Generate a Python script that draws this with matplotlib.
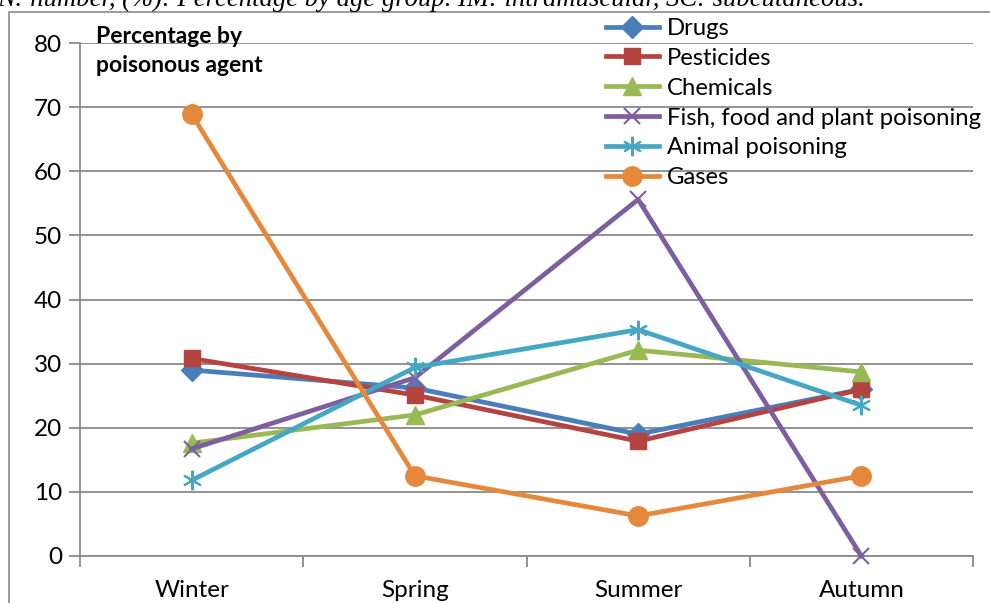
import matplotlib.pyplot as plt
from matplotlib.patches import Rectangle

seasons = ['Winter', 'Spring', 'Summer', 'Autumn']
drugs = [29.0, 26.2, 19.0, 26.0]
pesticides = [30.8, 25.1, 17.9, 26.0]
chemicals = [17.6, 22.0, 32.1, 28.7]
fish = [16.7, 27.8, 55.6, 0.0]
animal = [11.8, 29.4, 35.3, 23.5]
gases = [68.9, 12.5, 6.25, 12.5]
yticks = [0, 10, 20, 30, 40, 50, 60, 70, 80]

plt.rcParams['font.family'] = ['Lato', 'DejaVu Sans']

fig = plt.figure(figsize=(9.9, 6.03), dpi=100)
ax = fig.add_axes([80 / 990, 47 / 603, 893 / 990, 513 / 603])

# outer chart frame (runs off the right and bottom edges)
fig.patches.append(Rectangle((9 / 990, -0.1), 1.2, (603 - 12) / 603 + 0.1,
                             transform=fig.transFigure, fill=False,
                             edgecolor='#8a8a8a', linewidth=1.2))

series = [
    ('Drugs', drugs, '#4A7EBB', 'D', 11, 1.0),
    ('Pesticides', pesticides, '#B5433F', 's', 12, 1.0),
    ('Chemicals', chemicals, '#98B954', '^', 13, 1.0),
    ('Fish, food and plant poisoning', fish, '#7D5FA0', 'x', 12, 1.5),
    ('Animal poisoning', animal, '#45A7C3', (6, 2, 0), 14, 1.5),
    ('Gases', gases, '#E5883B', 'o', 14, 1.0),
]

x = range(len(seasons))
for name, vals, col, mk, ms, mew in series:
    ax.plot(x, vals, color=col, linewidth=3.4, marker=mk, markersize=ms,
            markeredgewidth=mew, markeredgecolor=col, markerfacecolor=col,
            label=name, clip_on=False, zorder=3)

ax.set_xlim(-0.5, 3.5)
ax.set_ylim(0, 80)
ax.set_yticks(yticks)
ax.set_xticks([-0.5, 0.5, 1.5, 2.5, 3.5], minor=False)
ax.set_xticklabels([])
ax.set_xticks(list(x), minor=True)
ax.set_xticklabels(seasons, minor=True)
ax.tick_params(axis='x', which='minor', length=0, pad=17, labelsize=17.5)
ax.tick_params(axis='x', which='major', length=8, width=1.3, color='#8a8a8a')
ax.tick_params(axis='y', length=8, width=1.3, color='#8a8a8a', labelsize=17.5, pad=5)

ax.grid(axis='y', color='#8a8a8a', linewidth=1.3)
ax.set_axisbelow(True)
for s in ['top', 'right']:
    ax.spines[s].set_visible(False)
for s in ['left', 'bottom']:
    ax.spines[s].set_color('#8a8a8a')
    ax.spines[s].set_linewidth(1.3)

fig.text(96 / 990, 1 - 26 / 603, 'Percentage by\npoisonous agent',
         fontsize=16.5, fontweight='bold', va='top', ha='left', linespacing=1.5)

fig.legend(loc='upper left', bbox_to_anchor=(606 / 990, 1 - 18 / 603),
           frameon=False, fontsize=17.2, handlelength=2.2, handletextpad=0.35,
           labelspacing=0.37, borderaxespad=0, borderpad=0)

fig.text(-3 / 990, 1 - 6 / 603,
         'N: number, (%): Percentage by age group. IM: intramuscular, SC: subcutaneous.',
         family='Liberation Serif', style='italic', fontsize=19.2,
         va='baseline', ha='left')

fig.savefig('out.png', dpi=100)
